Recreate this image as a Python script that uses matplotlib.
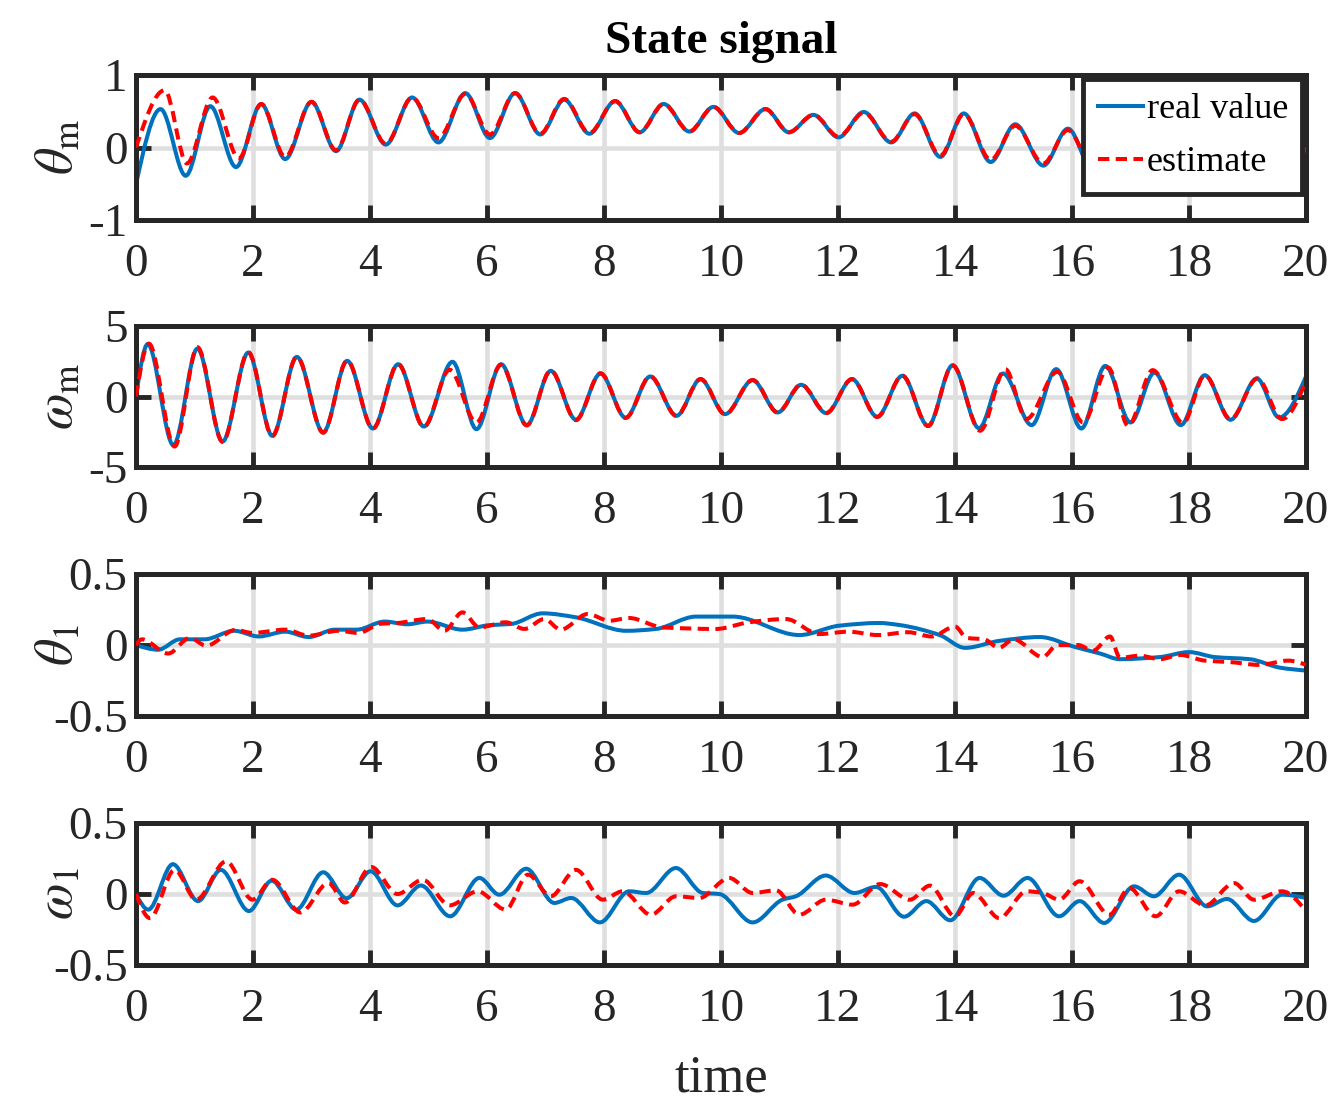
import matplotlib
matplotlib.use("Agg")
import matplotlib.pyplot as plt
import numpy as np
from matplotlib.path import Path
from matplotlib.patches import PathPatch
from matplotlib.lines import Line2D

plt.rcParams['font.family'] = ['Liberation Serif', 'DejaVu Serif']
plt.rcParams['mathtext.fontset'] = 'stix'
plt.rcParams['axes.unicode_minus'] = False

BLUE = '#0072BD'
RED = '#FF0000'
DARK = '#262626'

# values (peaks, troughs and shoulders of each curve)
theta_m_real_t = [0, 0.42, 0.85, 1.27, 1.71, 2.14, 2.55, 3.00, 3.42, 3.82, 4.27, 4.72, 5.17, 5.63,
                  6.05, 6.48, 6.91, 7.32, 7.75, 8.19, 8.61, 9.02, 9.46, 9.87, 10.31, 10.76, 11.16,
                  11.58, 12.01, 12.44, 12.91, 13.31, 13.75, 14.15, 14.61, 15.03, 15.51, 15.93,
                  16.39, 16.82, 17.25, 17.68, 18.1, 18.53, 18.95, 19.38, 19.8, 20.0]
theta_m_real = [-0.51, 0.53, -0.39, 0.57, -0.27, 0.60, -0.16, 0.63, -0.05, 0.66, 0.04, 0.69, 0.07,
                0.75, 0.13, 0.75, 0.18, 0.66, 0.19, 0.64, 0.21, 0.60, 0.22, 0.56, 0.20, 0.53, 0.21,
                0.45, 0.14, 0.49, 0.07, 0.47, -0.13, 0.47, -0.20, 0.32, -0.25, 0.26, -0.37, 0.28,
                -0.30, 0.25, -0.30, 0.20, -0.25, 0.20, -0.20, 0.0]
theta_m_est_t = [0, 0.49, 0.87, 1.31, 1.76, 2.14, 2.55, 3.00, 3.42, 3.82, 4.27, 4.72, 5.17, 5.63,
                 6.05, 6.48, 6.91, 7.32, 7.75, 8.19, 8.61, 9.02, 9.46, 9.87, 10.31, 10.76, 11.16,
                 11.58, 12.01, 12.44, 12.91, 13.31, 13.75, 14.15, 14.61, 15.03, 15.51, 15.93,
                 16.39, 16.82, 17.25, 17.68, 18.1, 18.53, 18.95, 19.38, 19.8, 20.0]
theta_m_est = [0.0, 0.79, -0.22, 0.69, -0.15, 0.60, -0.13, 0.63, -0.04, 0.66, 0.05, 0.69, 0.13,
               0.74, 0.18, 0.75, 0.19, 0.67, 0.20, 0.64, 0.21, 0.60, 0.22, 0.56, 0.20, 0.53, 0.21,
               0.45, 0.15, 0.48, 0.08, 0.46, -0.11, 0.46, -0.17, 0.30, -0.22, 0.24, -0.33, 0.26,
               -0.28, 0.24, -0.28, 0.19, -0.24, 0.19, -0.19, 0.0]

omega_m_real_t = [0, 0.20, 0.64, 1.05, 1.48, 1.92, 2.33, 2.75, 3.20, 3.61, 4.05, 4.48, 4.92, 5.41,
                  5.82, 6.24, 6.68, 7.09, 7.52, 7.94, 8.37, 8.79, 9.24, 9.65, 10.07, 10.54, 10.97,
                  11.37, 11.80, 12.24, 12.67, 13.10, 13.54, 13.96, 14.41, 14.82, 15.31, 15.73,
                  16.16, 16.57, 17.00, 17.41, 17.86, 18.27, 18.71, 19.16, 19.54, 20.0]
omega_m_real = [0, 3.71, -3.45, 3.40, -3.19, 3.12, -2.79, 2.81, -2.55, 2.53, -2.27, 2.29, -2.13,
                2.46, -2.32, 2.29, -2.03, 1.82, -1.65, 1.63, -1.51, 1.42, -1.37, 1.23, -1.25, 1.16,
                -1.13, 0.83, -1.18, 1.23, -1.44, 1.47, -2.08, 2.22, -2.25, 1.63, -2.03, 1.94,
                -2.27, 2.17, -1.84, 1.70, -2.03, 1.51, -1.65, 1.28, -1.49, 1.42]
omega_m_est_t = [0, 0.22, 0.66, 1.05, 1.48, 1.92, 2.33, 2.75, 3.20, 3.61, 4.05, 4.48, 4.92, 5.36,
                 5.82, 6.24, 6.68, 7.09, 7.52, 7.94, 8.37, 8.79, 9.24, 9.65, 10.07, 10.54, 10.97,
                 11.37, 11.80, 12.24, 12.67, 13.10, 13.54, 13.96, 14.43, 14.86, 15.22, 15.75,
                 16.19, 16.62, 16.96, 17.38, 17.90, 18.27, 18.71, 19.17, 19.59, 20.0]
omega_m_est = [0, 3.75, -3.55, 3.50, -3.22, 3.15, -2.80, 2.82, -2.57, 2.55, -2.28, 2.30, -2.15,
               1.90, -1.85, 2.25, -2.05, 1.85, -1.68, 1.65, -1.52, 1.43, -1.38, 1.24, -1.26, 1.17,
               -1.14, 0.85, -1.17, 1.24, -1.45, 1.48, -2.10, 2.20, -2.43, 1.94, -1.60, 1.75,
               -1.84, 2.05, -2.08, 1.87, -1.88, 1.51, -1.60, 1.28, -1.60, 1.10]

theta_1_real_t = [0, 0.38, 0.75, 1.17, 1.68, 2.1, 2.55, 2.95, 3.4, 3.77, 4.25, 4.64, 4.98, 5.58,
                  6.04, 6.41, 6.95, 7.52, 8.38, 8.89, 9.57, 10.2, 11.34, 12.02, 12.7, 13.06, 13.74,
                  14.17, 14.77, 15.45, 16.05, 16.48, 16.82, 17.5, 18.0, 18.44, 19.04, 19.56, 20.0]
theta_1_real = [0, -0.033, 0.04, 0.04, 0.10, 0.06, 0.094, 0.056, 0.108, 0.108, 0.165, 0.146, 0.165,
                0.108, 0.14, 0.148, 0.223, 0.195, 0.10, 0.113, 0.20, 0.20, 0.07, 0.136, 0.155,
                0.14, 0.07, -0.02, 0.03, 0.056, -0.014, -0.06, -0.10, -0.085, -0.05, -0.085,
                -0.10, -0.16, -0.18]
theta_1_est_t = [0, 0.1, 0.55, 0.92, 1.2, 1.7, 1.99, 2.55, 2.95, 3.46, 3.8, 4.19, 4.47, 4.98, 5.27,
                 5.58, 5.87, 6.32, 6.64, 6.98, 7.26, 7.72, 8.09, 8.43, 9.0, 9.91, 10.48, 11.11,
                 11.68, 12.18, 12.68, 13.2, 13.6, 14.0, 14.2, 14.5, 14.75, 15.0, 15.5, 15.75,
                 16.1, 16.36, 16.65, 16.82, 17.16, 17.5, 17.85, 18.27, 18.7, 19.2, 19.7, 20.0]
theta_1_est = [0, 0.04, -0.06, 0.05, -0.005, 0.106, 0.085, 0.108, 0.066, 0.10, 0.085, 0.15, 0.155,
               0.183, 0.10, 0.23, 0.124, 0.16, 0.113, 0.183, 0.108, 0.218, 0.171, 0.19, 0.124,
               0.113, 0.16, 0.183, 0.077, 0.094, 0.07, 0.09, 0.06, 0.13, 0.05, 0.04, -0.02, 0.04,
               -0.085, 0.0, 0.0, -0.04, 0.06, -0.09, -0.075, -0.10, -0.07, -0.11, -0.12, -0.14,
               -0.11, -0.14]

omega_1_real_t = [0, 0.21, 0.63, 1.06, 1.45, 1.93, 2.32, 2.74, 3.2, 3.6, 4.01, 4.47, 4.87, 5.37,
                  5.87, 6.21, 6.67, 7.15, 7.44, 7.93, 8.43, 8.72, 9.23, 9.69, 9.97, 10.54, 11.05,
                  11.28, 11.79, 12.28, 12.65, 13.13, 13.51, 13.92, 14.42, 14.83, 15.24, 15.78,
                  16.13, 16.55, 17.06, 17.4, 17.83, 18.31, 18.65, 19.11, 19.59, 20.0]
omega_1_real = [0, -0.11, 0.21, -0.05, 0.17, -0.12, 0.094, -0.11, 0.153, -0.03, 0.16, -0.08, 0.06,
                -0.157, 0.113, -0.005, 0.178, -0.063, -0.028, -0.20, 0.019, 0.007, 0.183, 0.007,
                0.0, -0.20, -0.04, -0.016, 0.13, 0.007, 0.05, -0.16, -0.05, -0.185, 0.113,
                -0.012, 0.113, -0.157, -0.05, -0.204, 0.054, -0.016, 0.136, -0.087, -0.035,
                -0.19, -0.005, -0.028]
omega_1_est_t = [0, 0.24, 0.66, 1.03, 1.54, 1.99, 2.33, 2.81, 3.29, 3.57, 4.02, 4.47, 4.9, 5.36,
                 5.84, 6.32, 6.7, 7.09, 7.52, 7.98, 8.32, 8.8, 9.23, 9.63, 10.14, 10.54, 10.94,
                 11.34, 11.79, 12.25, 12.72, 13.23, 13.57, 14.0, 14.31, 14.76, 15.22, 15.5, 15.78,
                 16.13, 16.64, 16.98, 17.43, 17.83, 18.28, 18.77, 19.11, 19.59, 20.0]
omega_1_est = [0, -0.17, 0.17, -0.04, 0.23, -0.04, 0.10, -0.13, 0.077, -0.06, 0.19, 0.0, 0.10,
               -0.08, 0.019, -0.11, 0.136, -0.016, 0.17, -0.04, 0.019, -0.146, -0.016, -0.028,
               0.113, 0.007, 0.026, -0.146, -0.04, -0.075, 0.07, -0.04, 0.059, -0.157, 0.007,
               -0.17, 0.019, 0.007, -0.04, 0.09, -0.146, 0.042, -0.157, 0.019, -0.08, 0.077,
               -0.04, 0.019, -0.122]

xticks = list(range(0, 21, 2))
panels = [
    (theta_m_real_t, theta_m_real, theta_m_est_t, theta_m_est, (-1, 1), [-1, 0, 1],
     ['-1', '0', '1'], r'$\theta_\mathrm{m}$'),
    (omega_m_real_t, omega_m_real, omega_m_est_t, omega_m_est, (-5, 5), [-5, 0, 5],
     ['-5', '0', '5'], r'$\omega_\mathrm{m}$'),
    (theta_1_real_t, theta_1_real, theta_1_est_t, theta_1_est, (-0.5, 0.5), [-0.5, 0, 0.5],
     ['-0.5', '0', '0.5'], r'$\theta_1$'),
    (omega_1_real_t, omega_1_real, omega_1_est_t, omega_1_est, (-0.5, 0.5), [-0.5, 0, 0.5],
     ['-0.5', '0', '0.5'], r'$\omega_1$'),
]


def smooth_path(t, y):
    # smooth line through the read points (Bezier segments, flat at peaks)
    t = np.asarray(t, float)
    y = np.asarray(y, float)
    h = np.diff(t)
    d = np.diff(y) / h
    m = np.zeros_like(y)
    for i in range(1, len(y) - 1):
        if d[i - 1] * d[i] > 0:
            m[i] = 2 * d[i - 1] * d[i] / (d[i - 1] + d[i])
    m[0] = 1.5 * d[0] - 0.5 * m[1]
    if m[0] * d[0] < 0:
        m[0] = 0
    m[-1] = 1.5 * d[-1] - 0.5 * m[-2]
    if m[-1] * d[-1] < 0:
        m[-1] = 0
    verts = [(t[0], y[0])]
    codes = [Path.MOVETO]
    for i in range(len(t) - 1):
        k = h[i] / 3
        verts += [(t[i] + k, y[i] + m[i] * k), (t[i + 1] - k, y[i + 1] - m[i + 1] * k),
                  (t[i + 1], y[i + 1])]
        codes += [Path.CURVE4] * 3
    return Path(verts, codes)


fig = plt.figure(figsize=(13.31, 11.02), dpi=100)
W, H = 1331, 1102
left, width = 136 / W, 1170 / W
rows = [(75, 220), (326, 467), (574, 716), (823, 965)]

axes = []
for (top, bot), (rt, ry, et, ey, ylim, yt, ytl, ylab) in zip(rows, panels):
    ax = fig.add_axes([left, 1 - bot / H, width, (bot - top) / H])
    ax.add_patch(PathPatch(smooth_path(rt, ry), fill=False, edgecolor=BLUE, lw=2.9,
                           capstyle='round', joinstyle='round', zorder=2))
    ax.add_patch(PathPatch(smooth_path(et, ey), fill=False, edgecolor=RED, lw=2.9,
                           linestyle=(0, (2.8, 1.6)), joinstyle='round', zorder=3))
    ax.set_xlim(0, 20)
    ax.set_ylim(*ylim)
    ax.set_xticks(xticks)
    ax.set_xticklabels([str(v) for v in xticks])
    ax.set_yticks(yt)
    ax.set_yticklabels(ytl)
    ax.grid(True, color='#DFDFDF', lw=3.3)
    ax.set_axisbelow(True)
    ax.tick_params(direction='in', top=True, right=True, length=11, width=3.5, color=DARK,
                   labelsize=34, labelcolor=DARK)
    ax.tick_params(axis='x', pad=17)
    ax.tick_params(axis='y', pad=6)
    for s in ax.spines.values():
        s.set_linewidth(3.6)
        s.set_color(DARK)
    ax.set_ylabel(ylab, fontsize=38, color=DARK)
    ax.yaxis.set_label_coords(-0.045, 0.5)
    axes.append(ax)

axes[0].set_title('State signal', fontsize=34, fontweight='bold', pad=16)

handles = [Line2D([], [], color=BLUE, lw=2.9),
           Line2D([], [], color=RED, lw=2.9, linestyle=(0, (2.8, 1.6)))]
leg = axes[0].legend(handles, ['real value', 'estimate'], loc='upper right', fontsize=26,
                     frameon=True, fancybox=False, framealpha=1, edgecolor=DARK,
                     borderaxespad=0.1, borderpad=0.4, handlelength=1.25, handletextpad=0.1,
                     labelspacing=0.55)
leg.get_frame().set_linewidth(3.5)

fig.text(721 / W, 1 - 1078 / H, 'time', ha='center', va='center', fontsize=38, color=DARK)

fig.savefig('out.png', dpi=100)
